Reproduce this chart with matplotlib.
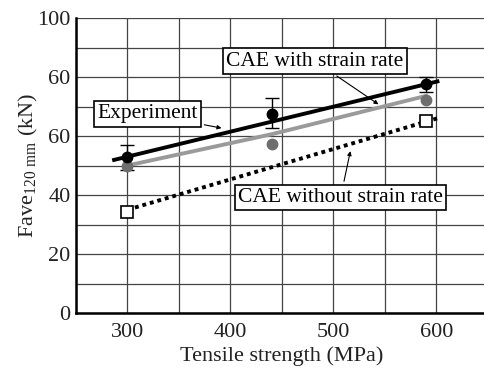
import matplotlib.pyplot as plt

plt.rcParams['font.family'] = 'Liberation Serif'
plt.rcParams['mathtext.default'] = 'regular'

# measured points
tensile = [300, 440, 590]
exp_force = [53.0, 67.4, 77.6]
exp_err_low = [4.5, 4.8, 2.6]
exp_err_high = [4.0, 5.6, 2.4]
cae_rate = [50.0, 57.2, 72.2]
cae_norate_x = [300, 590]
cae_norate = [34.3, 65.0]

# trend lines
exp_fit_x = [287, 601]
exp_fit_y = [51.9, 78.5]
rate_fit_x = [300, 440, 590]
rate_fit_y = [50.0, 60.6, 73.6]
norate_fit_x = [300, 601]
norate_fit_y = [35.0, 66.0]

yticks = [0, 20, 40, 60, 80, 100]
ytick_labels = ['0', '20', '40', '60', '60', '100']

fig = plt.figure(figsize=(4.84, 3.72), dpi=100)
ax = fig.add_axes([0.157, 0.1586, 0.851, 0.793])

ax.set_xlim(250, 650)
ax.set_ylim(0, 100)
ax.set_xticks([300, 400, 500, 600])
ax.set_xticks(range(250, 651, 50), minor=True)
ax.set_yticks(yticks)
ax.set_yticklabels(ytick_labels)
ax.set_yticks(range(0, 101, 10), minor=True)
ax.grid(which='both', color='#444444', linewidth=0.9)
ax.tick_params(which='both', length=0, labelsize=16, pad=4, labelcolor='#222222')
ax.tick_params(axis='x', pad=7)
for s in ['top', 'right']:
    ax.spines[s].set_visible(False)
for s in ['left', 'bottom']:
    ax.spines[s].set_linewidth(1.8)
ax.set_axisbelow(True)

ax.plot(norate_fit_x, norate_fit_y, color='black', lw=2.8, linestyle=(0, (1, 1)), zorder=3)
ax.plot(rate_fit_x, rate_fit_y, color='#9a9a9a', lw=2.8, zorder=3)
ax.plot(exp_fit_x, exp_fit_y, color='black', lw=2.8, zorder=4)

ax.errorbar(tensile, exp_force, yerr=[exp_err_low, exp_err_high], fmt='none',
            ecolor='black', elinewidth=1.0, capsize=5, capthick=1.0, zorder=5)
ax.plot(tensile, cae_rate, 'o', color='#6e6e6e', markersize=7.5, zorder=5)
ax.plot(tensile, exp_force, 'o', color='black', markersize=7.5, zorder=6)
ax.plot(cae_norate_x, cae_norate, 's', markerfacecolor='white', markeredgecolor='black',
        markeredgewidth=1.2, markersize=8.5, zorder=6)

box = dict(boxstyle='square,pad=0.15', facecolor='white', edgecolor='black', linewidth=1.2)
arrow = dict(arrowstyle='-|>', color='black', lw=0.8, mutation_scale=6)

ax.annotate('Experiment', xy=(394, 62.5), xytext=(319.5, 67.5), fontsize=15.5,
            ha='center', va='center', bbox=box, arrowprops=arrow, zorder=7)
ax.annotate('CAE with strain rate', xy=(546, 70.2), xytext=(482, 85.4), fontsize=15.5,
            ha='center', va='center', bbox=box, arrowprops=arrow, zorder=7)
ax.annotate('CAE without strain rate', xy=(517, 55.8), xytext=(507, 39.2), fontsize=15.5,
            ha='center', va='center', bbox=box, arrowprops=arrow, zorder=7)

ax.set_xlabel('Tensile strength (MPa)', fontsize=16, labelpad=3, color='#222222')
ax.set_ylabel('Fave$_{120\\ mm}$ (kN)', fontsize=16, labelpad=-2, color='#222222')

fig.savefig('out.png', dpi=100)
